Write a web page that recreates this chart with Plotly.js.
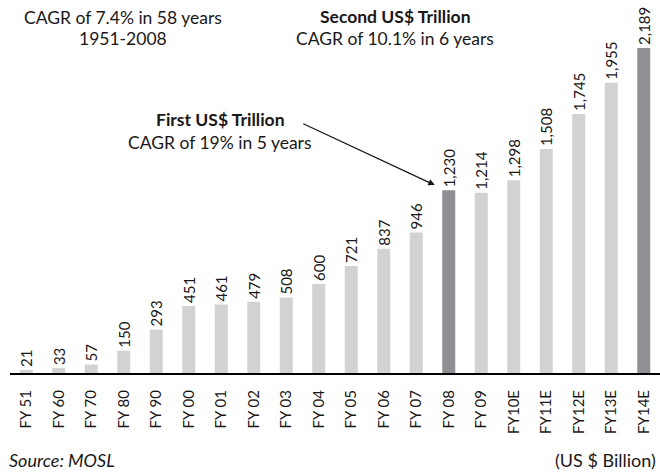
<!DOCTYPE html>
<html>
<head>
<meta charset="utf-8">
<script src="https://cdn.plot.ly/plotly-3.0.1.min.js"></script>
<style>
  html, body { margin: 0; padding: 0; background: #fff; }
  #chart { width: 660px; height: 473px; }
</style>
</head>
<body>
<div id="chart"></div>
<script>
// India GDP path to the second US$ trillion (US$ bn)
const years = ['FY 51', 'FY 60', 'FY 70', 'FY 80', 'FY 90', 'FY 00', 'FY 01', 'FY 02', 'FY 03', 'FY 04',
               'FY 05', 'FY 06', 'FY 07', 'FY 08', 'FY 09', 'FY10E', 'FY11E', 'FY12E', 'FY13E', 'FY14E'];
const gdp = [21, 33, 57, 150, 293, 451, 461, 479, 508, 600,
             721, 837, 946, 1230, 1214, 1298, 1508, 1745, 1955, 2189];
const milestones = ['FY 08', 'FY14E'];

const LIGHT = '#d1d2d4', DARK = '#8f9093', INK = '#1a1718';
const FONT = 'Lato, "Open Sans", sans-serif';

const W = 660, H = 473;
const M = { l: 10, r: 0, t: 0, b: 100 };
// pixel -> paper helpers for the free-floating notes
const px = x => (x - M.l) / (W - M.l - M.r);
const py = y => (H - M.b - y) / (H - M.t - M.b);

function note(x, y, text, opts) {
  return Object.assign({ xref: 'paper', yref: 'paper', x: px(x), y: py(y), text,
    showarrow: false, xanchor: 'center', yanchor: 'middle',
    font: { family: FONT, size: 17.5, color: INK } }, opts || {});
}

const data = [{
  type: 'bar', x: years, y: gdp,
  marker: { color: years.map(y => milestones.includes(y) ? DARK : LIGHT) },
  text: gdp.map(v => v.toLocaleString('en-US')), textposition: 'outside', textangle: -90,
  constraintext: 'none', cliponaxis: false,
  textfont: { family: FONT, size: 15, color: INK },
  hoverinfo: 'x+y',
}];

const foot = { family: FONT, size: 18, color: INK };

const layout = {
  width: W, height: H, margin: M, paper_bgcolor: '#fff', plot_bgcolor: '#fff',
  bargap: 0.6, showlegend: false,
  font: { family: FONT, color: INK },
  xaxis: {
    type: 'category', range: [-0.5, 19.5], showline: true, linecolor: '#000', linewidth: 2,
    ticks: 'outside', ticklen: 9, tickcolor: 'rgba(0,0,0,0)', tickangle: -90,
    tickfont: { family: FONT, size: 15, color: INK }, showgrid: false, zeroline: false,
  },
  yaxis: { range: [0, 2512], visible: false, showgrid: false, zeroline: false },
  annotations: [
    note(123, 17, 'CAGR of 7.4% in 58 years'),
    note(123, 39, '1951-2008'),
    note(395, 16, '<b>Second US$ Trillion</b>'),
    note(395, 39, 'CAGR of 10.1% in 6 years'),
    note(220, 119, '<b>First US$ Trillion</b>'),
    note(220, 142, 'CAGR of 19% in 5 years'),
    { xref: 'x', yref: 'y', x: 12.57, y: 1266, ax: -133, ay: -62, text: '',
      showarrow: true, arrowhead: 2, arrowsize: 1, arrowwidth: 1.3, arrowcolor: INK },
    note(7, 460, '<i>Source: MOSL</i>', { xanchor: 'left', font: foot }),
    note(658, 460, '(US $ Billion)', { xanchor: 'right', font: foot }),
  ],
};

Plotly.newPlot('chart', data, layout, { displayModeBar: false, staticPlot: true });
</script>
</body>
</html>
